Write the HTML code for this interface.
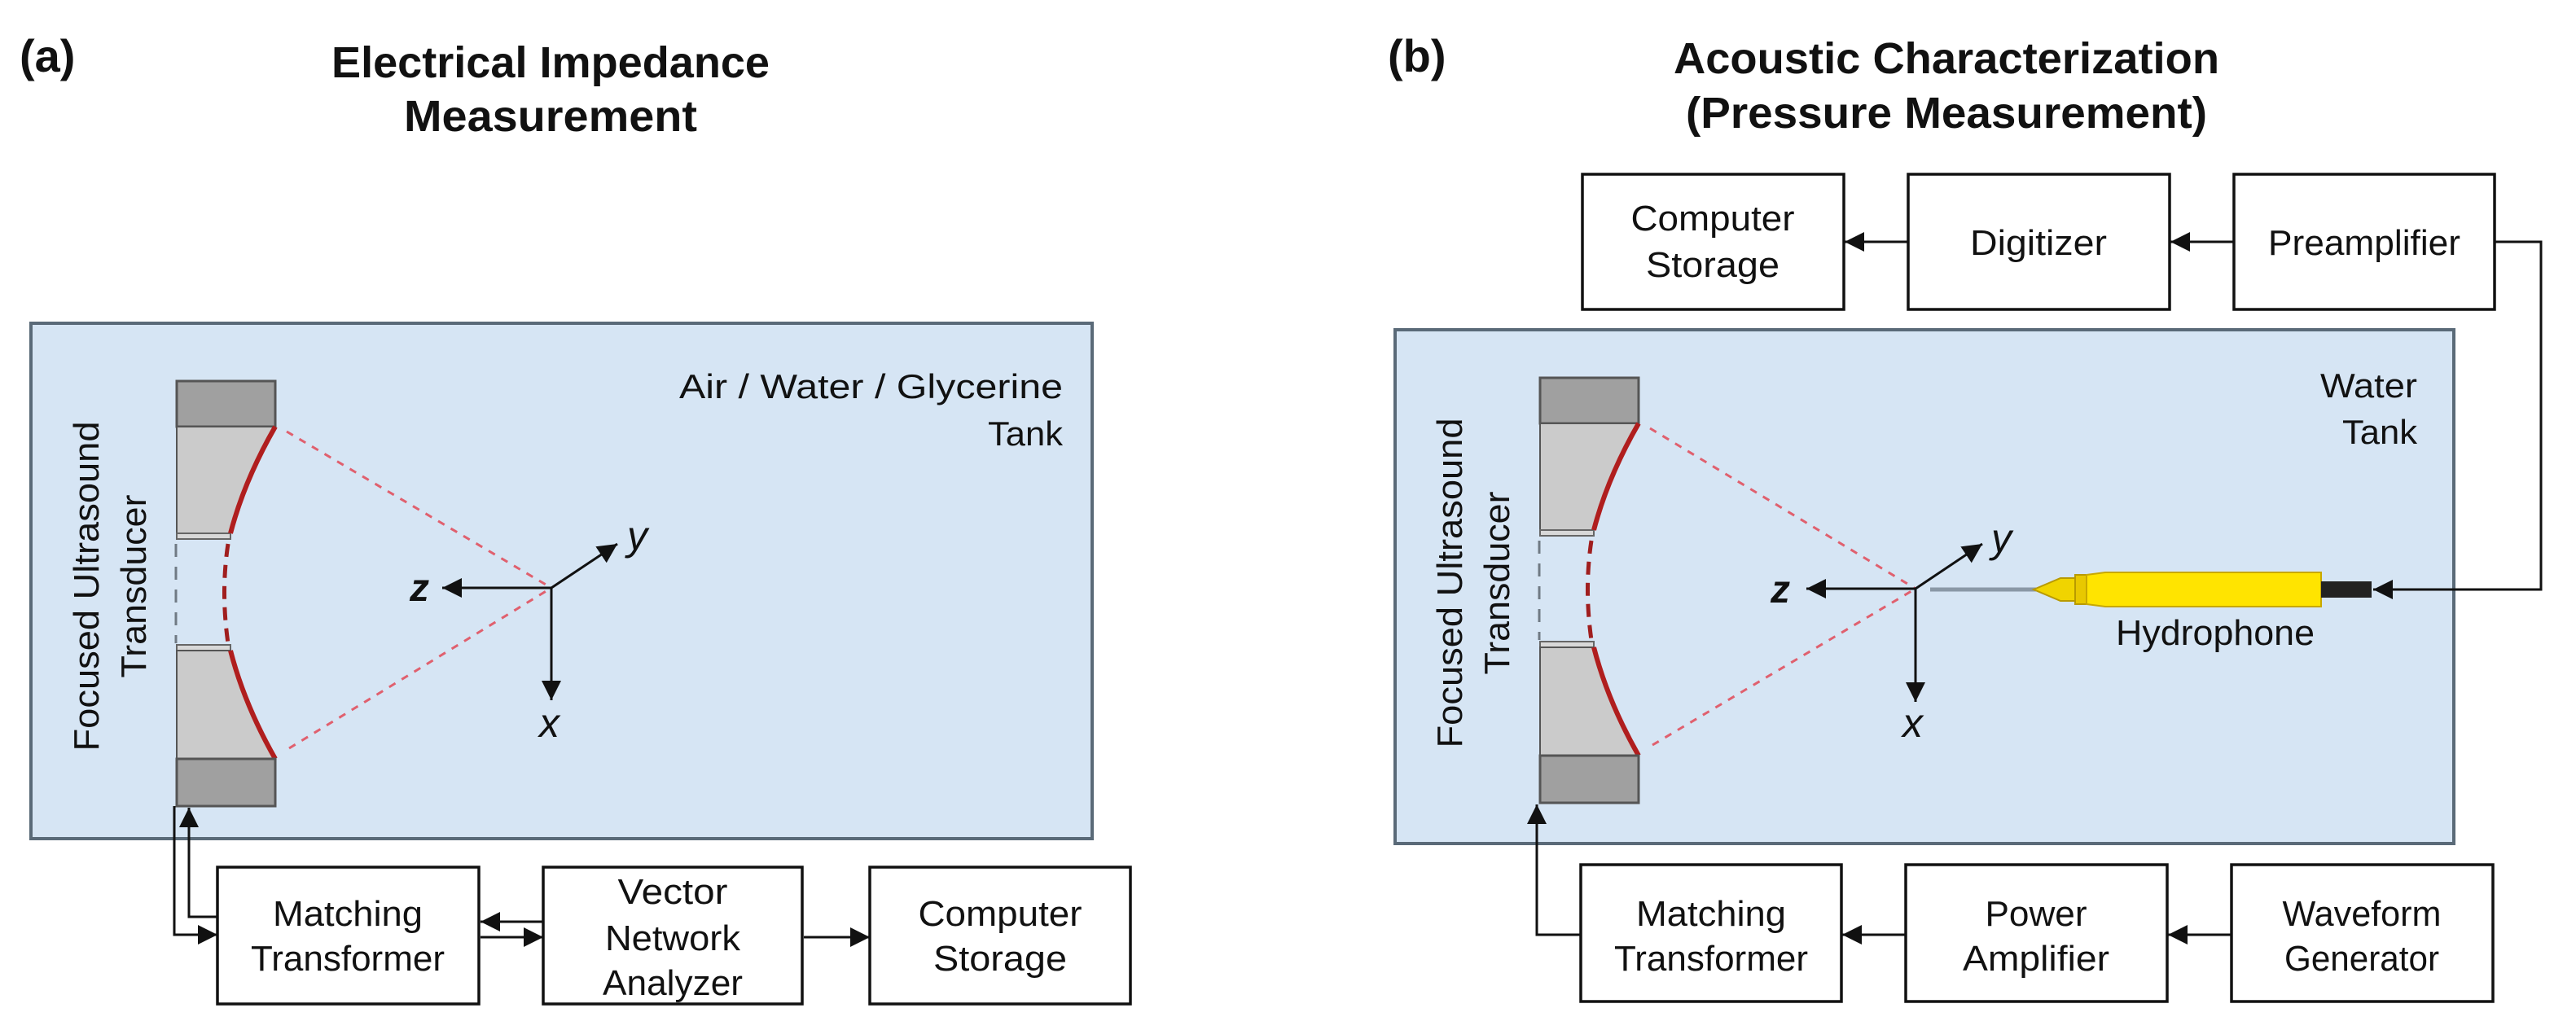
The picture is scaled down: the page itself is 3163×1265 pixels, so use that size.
<!DOCTYPE html>
<html><head><meta charset="utf-8"><style>
html,body{margin:0;padding:0;background:#fff;}
svg{display:block;}
text{font-family:"Liberation Sans Narrow","Liberation Sans",Arial,sans-serif;fill:#111;}
.b{font-family:"Liberation Sans",Arial,sans-serif;font-weight:bold;}
.bx{fill:#fff;stroke:#111;stroke-width:3.5;}
.ln{stroke:#111;stroke-width:3;fill:none;}
.ray{stroke:#e0606e;stroke-width:3;stroke-dasharray:9 9;fill:none;}
</style></head><body>
<svg width="3163" height="1265" viewBox="0 0 3163 1265" xmlns="http://www.w3.org/2000/svg">
<defs>
<marker id="ah" markerWidth="10" markerHeight="10" refX="9" refY="5" orient="auto" markerUnits="userSpaceOnUse" viewBox="0 0 10 10">
</marker>
<marker id="a" viewBox="0 0 10 10" refX="10" refY="5" markerWidth="24" markerHeight="24" markerUnits="userSpaceOnUse" orient="auto"><path d="M0,0 L10,5 L0,10 z" fill="#111"/></marker>
<g id="trans">
  <rect x="217" y="468" width="121" height="56" fill="#a0a0a0" stroke="#555" stroke-width="3"/>
  <path d="M217,524 L338,524 Q300,590 283,655 L217,655 Z" fill="#cbcbcb" stroke="#555" stroke-width="2"/>
  <rect x="217" y="655" width="66" height="7" fill="#d8d8d8" stroke="#666" stroke-width="2"/>
  <path d="M338,524 Q300,590 283,655" stroke="#b01e1e" stroke-width="6" fill="none"/>
  <line x1="216" y1="668" x2="216" y2="790" stroke="#707a84" stroke-width="3" stroke-dasharray="16 12"/>
  <path d="M280,668 Q271,727 280,790" stroke="#a01e1e" stroke-width="5" fill="none" stroke-dasharray="16 10"/>
  <rect x="217" y="792" width="66" height="7" fill="#d8d8d8" stroke="#666" stroke-width="2"/>
  <path d="M217,799 L283,799 Q300,865 338,932 L217,932 Z" fill="#cbcbcb" stroke="#555" stroke-width="2"/>
  <path d="M283,799 Q300,865 338,932" stroke="#b01e1e" stroke-width="6" fill="none"/>
  <rect x="217" y="932" width="121" height="58" fill="#a0a0a0" stroke="#555" stroke-width="3"/>
  <text transform="translate(121,720) rotate(-90)" text-anchor="middle" font-size="44" style="font-family:'Liberation Sans',Arial,sans-serif" textLength="405" lengthAdjust="spacingAndGlyphs">Focused Ultrasound</text>
  <text transform="translate(179,720) rotate(-90)" text-anchor="middle" font-size="44" style="font-family:'Liberation Sans',Arial,sans-serif" textLength="225" lengthAdjust="spacingAndGlyphs">Transducer</text>
</g>
</defs>

<!-- Panel A -->
<text x="24" y="88" class="b" font-size="56">(a)</text>
<text x="676" y="95" class="b" font-size="54" text-anchor="middle" textLength="538" lengthAdjust="spacingAndGlyphs">Electrical Impedance</text>
<text x="676" y="161" class="b" font-size="54" text-anchor="middle" textLength="360" lengthAdjust="spacingAndGlyphs">Measurement</text>

<rect x="38" y="397" width="1303" height="633" fill="#d6e5f4" stroke="#5a6a78" stroke-width="4"/>
<text x="1305" y="489" font-size="42" text-anchor="end" textLength="471" lengthAdjust="spacingAndGlyphs">Air / Water / Glycerine</text>
<text x="1305" y="547" font-size="42" text-anchor="end" textLength="92" lengthAdjust="spacingAndGlyphs">Tank</text>

<use href="#trans"/>
<line class="ray" x1="352" y1="530" x2="677" y2="722"/>
<line class="ray" x1="355" y1="919" x2="677" y2="722"/>
<line class="ln" x1="677" y1="722" x2="543" y2="722" marker-end="url(#a)"/>
<line class="ln" x1="677" y1="722" x2="677" y2="860" marker-end="url(#a)"/>
<line class="ln" x1="677" y1="722" x2="758" y2="668" marker-end="url(#a)"/>
<text x="503" y="738" class="b" font-size="48" font-style="italic">z</text>
<text x="662" y="905" font-size="50" font-style="italic" style="font-family:'Liberation Sans',Arial,sans-serif">x</text>
<text x="770" y="675" font-size="50" font-style="italic" style="font-family:'Liberation Sans',Arial,sans-serif">y</text>

<rect class="bx" x="267" y="1065" width="321" height="168"/>
<text x="427" y="1137" font-size="44" text-anchor="middle" textLength="184" lengthAdjust="spacingAndGlyphs">Matching</text>
<text x="427" y="1192" font-size="44" text-anchor="middle" textLength="238" lengthAdjust="spacingAndGlyphs">Transformer</text>
<rect class="bx" x="667" y="1065" width="318" height="168"/>
<text x="826" y="1110" font-size="44" text-anchor="middle" textLength="135" lengthAdjust="spacingAndGlyphs">Vector</text>
<text x="826" y="1167" font-size="44" text-anchor="middle" textLength="166" lengthAdjust="spacingAndGlyphs">Network</text>
<text x="826" y="1222" font-size="44" text-anchor="middle" textLength="172" lengthAdjust="spacingAndGlyphs">Analyzer</text>
<rect class="bx" x="1068" y="1065" width="320" height="168"/>
<text x="1228" y="1137" font-size="44" text-anchor="middle" textLength="201" lengthAdjust="spacingAndGlyphs">Computer</text>
<text x="1228" y="1192" font-size="44" text-anchor="middle" textLength="164" lengthAdjust="spacingAndGlyphs">Storage</text>

<path class="ln" d="M214,990 V1148 H267" marker-end="url(#a)"/>
<path class="ln" d="M267,1126 H232 V992" marker-end="url(#a)"/>
<line class="ln" x1="667" y1="1132" x2="590" y2="1132" marker-end="url(#a)"/>
<line class="ln" x1="590" y1="1151" x2="667" y2="1151" marker-end="url(#a)"/>
<line class="ln" x1="987" y1="1151" x2="1068" y2="1151" marker-end="url(#a)"/>

<!-- Panel B -->
<text x="1704" y="88" class="b" font-size="56">(b)</text>
<text x="2390" y="90" class="b" font-size="54" text-anchor="middle" textLength="670" lengthAdjust="spacingAndGlyphs">Acoustic Characterization</text>
<text x="2390" y="157" class="b" font-size="54" text-anchor="middle" textLength="640" lengthAdjust="spacingAndGlyphs">(Pressure Measurement)</text>

<rect class="bx" x="1943" y="214" width="321" height="166"/>
<text x="2103" y="283" font-size="44" text-anchor="middle" textLength="201" lengthAdjust="spacingAndGlyphs">Computer</text>
<text x="2103" y="340" font-size="44" text-anchor="middle" textLength="164" lengthAdjust="spacingAndGlyphs">Storage</text>
<rect class="bx" x="2343" y="214" width="321" height="166"/>
<text x="2503" y="313" font-size="44" text-anchor="middle" textLength="168" lengthAdjust="spacingAndGlyphs">Digitizer</text>
<rect class="bx" x="2743" y="214" width="320" height="166"/>
<text x="2903" y="313" font-size="44" text-anchor="middle" textLength="236" lengthAdjust="spacingAndGlyphs">Preamplifier</text>
<line class="ln" x1="2343" y1="297" x2="2265" y2="297" marker-end="url(#a)"/>
<line class="ln" x1="2743" y1="297" x2="2665" y2="297" marker-end="url(#a)"/>

<rect x="1713" y="405" width="1300" height="631" fill="#d6e5f4" stroke="#5a6a78" stroke-width="4"/>
<text x="2968" y="488" font-size="42" text-anchor="end" textLength="119" lengthAdjust="spacingAndGlyphs">Water</text>
<text x="2968" y="545" font-size="42" text-anchor="end" textLength="92" lengthAdjust="spacingAndGlyphs">Tank</text>

<use href="#trans" transform="translate(1674,-4)"/>
<line class="ray" x1="2026" y1="526" x2="2352" y2="723"/>
<line class="ray" x1="2029" y1="915" x2="2352" y2="723"/>
<line class="ln" x1="2352" y1="723" x2="2218" y2="723" marker-end="url(#a)"/>
<line class="ln" x1="2352" y1="723" x2="2352" y2="862" marker-end="url(#a)"/>
<line class="ln" x1="2352" y1="723" x2="2434" y2="668" marker-end="url(#a)"/>
<text x="2174" y="740" class="b" font-size="48" font-style="italic">z</text>
<text x="2336" y="905" font-size="50" font-style="italic" style="font-family:'Liberation Sans',Arial,sans-serif">x</text>
<text x="2445" y="678" font-size="50" font-style="italic" style="font-family:'Liberation Sans',Arial,sans-serif">y</text>

<!-- hydrophone -->
<line x1="2370" y1="724" x2="2500" y2="724" stroke="#8a98a6" stroke-width="5"/>
<polygon points="2497,724 2530,710 2548,710 2548,738 2530,738" fill="#f0d400" stroke="#b89a00" stroke-width="2"/>
<rect x="2548" y="706" width="14" height="36" fill="#e8c800" stroke="#b89a00" stroke-width="2"/>
<polygon points="2562,706 2585,703 2850,703 2850,745 2585,745 2562,742" fill="#ffe400" stroke="#c8a800" stroke-width="2"/>
<rect x="2850" y="714" width="62" height="20" fill="#222"/>
<path class="ln" d="M3063,297 H3120 V724 H2914" marker-end="url(#a)"/>
<text x="2720" y="792" font-size="44" text-anchor="middle" textLength="244" lengthAdjust="spacingAndGlyphs">Hydrophone</text>

<rect class="bx" x="1941" y="1062" width="320" height="168"/>
<text x="2101" y="1137" font-size="44" text-anchor="middle" textLength="184" lengthAdjust="spacingAndGlyphs">Matching</text>
<text x="2101" y="1192" font-size="44" text-anchor="middle" textLength="238" lengthAdjust="spacingAndGlyphs">Transformer</text>
<rect class="bx" x="2340" y="1062" width="321" height="168"/>
<text x="2500" y="1137" font-size="44" text-anchor="middle" textLength="125" lengthAdjust="spacingAndGlyphs">Power</text>
<text x="2500" y="1192" font-size="44" text-anchor="middle" textLength="180" lengthAdjust="spacingAndGlyphs">Amplifier</text>
<rect class="bx" x="2740" y="1062" width="321" height="168"/>
<text x="2900" y="1137" font-size="44" text-anchor="middle" textLength="195" lengthAdjust="spacingAndGlyphs">Waveform</text>
<text x="2900" y="1192" font-size="44" text-anchor="middle" textLength="190" lengthAdjust="spacingAndGlyphs">Generator</text>
<line class="ln" x1="2340" y1="1148" x2="2262" y2="1148" marker-end="url(#a)"/>
<line class="ln" x1="2740" y1="1148" x2="2662" y2="1148" marker-end="url(#a)"/>
<path class="ln" d="M1941,1148 H1887 V988" marker-end="url(#a)"/>
</svg>
</body></html>
